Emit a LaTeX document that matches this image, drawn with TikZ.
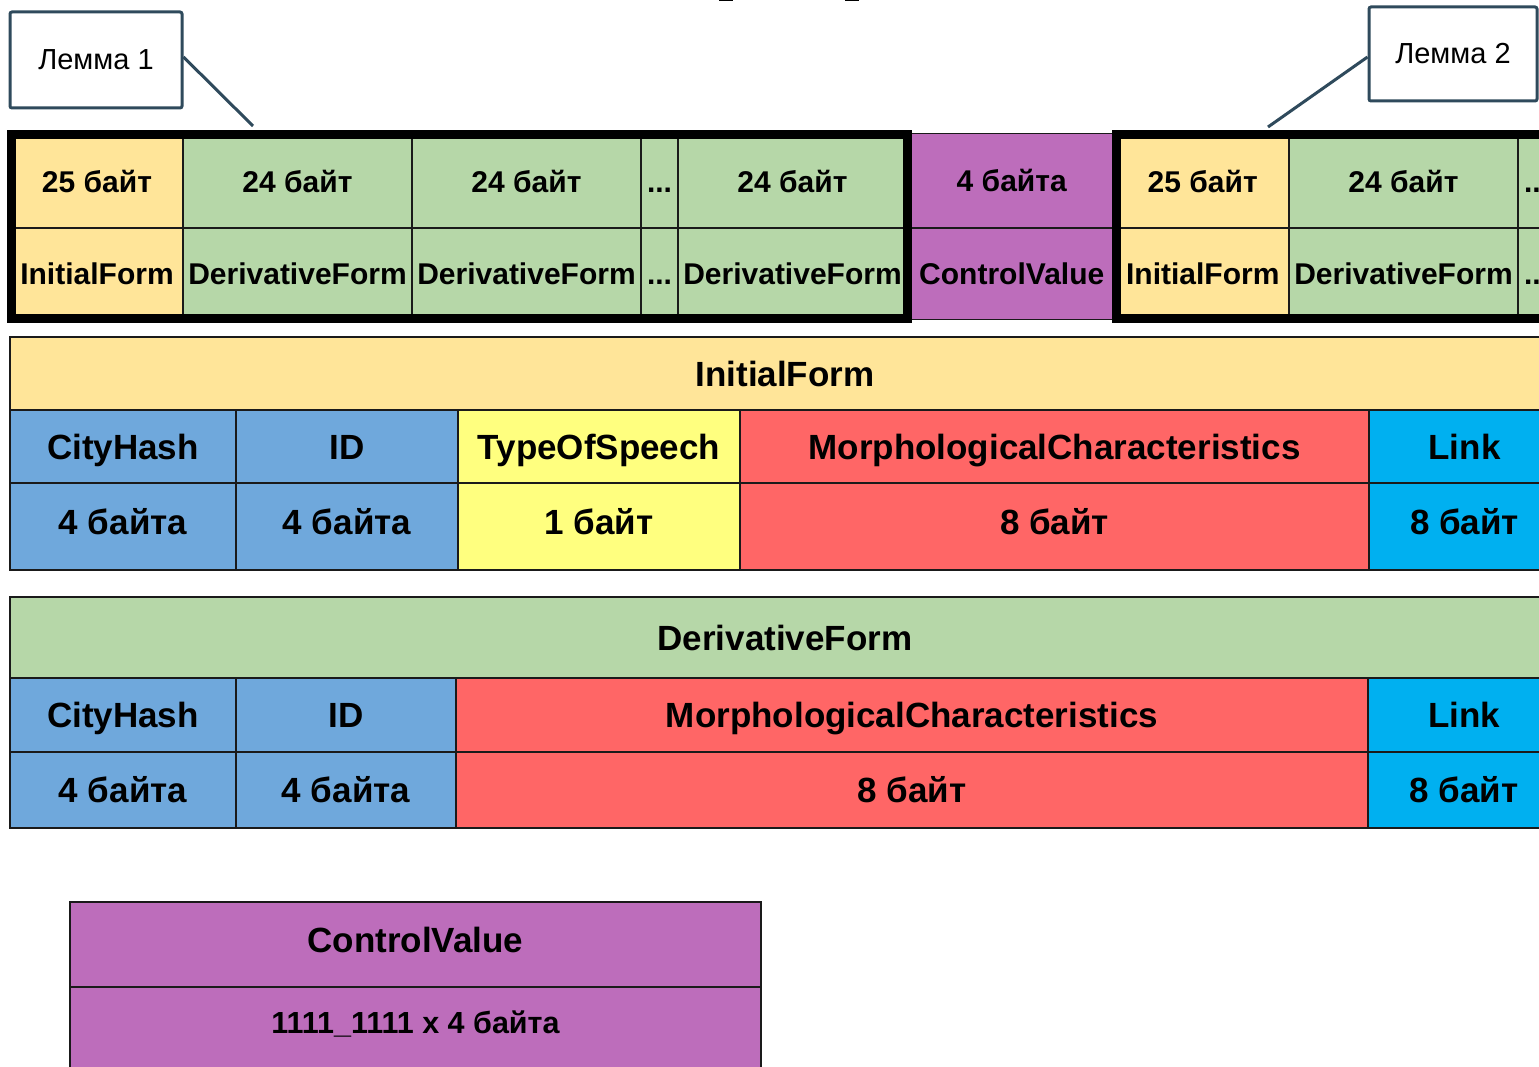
\documentclass[tikz,border=0pt]{standalone}
\usepackage{fontspec}
\setmainfont{Liberation Sans}
\usetikzlibrary{positioning}

\definecolor{formyellow}{HTML}{FFE599}
\definecolor{formgreen}{HTML}{B6D7A8}
\definecolor{cvpurple}{HTML}{BD6DBB}
\definecolor{hashblue}{HTML}{6FA8DC}
\definecolor{speechyellow}{HTML}{FFFF7F}
\definecolor{morphred}{HTML}{FF6666}
\definecolor{linkcyan}{HTML}{00B0F0}
\definecolor{calloutline}{HTML}{2F4A5C}
\definecolor{gridline}{HTML}{1A1A1A}

\newcommand\topfont{\bfseries\fontsize{30}{36}\selectfont}
\newcommand\tabfont{\bfseries\fontsize{35}{42}\selectfont}
\newcommand\cvfont{\bfseries\fontsize{30.5}{36}\selectfont}
\newcommand\lemfont{\fontsize{29}{34}\selectfont}

% one table cell: name, x0, y0, x1, y1, fill, text style, text
\newcommand\mkcell[8]{%
  \node[cell, fill=#6, #7, minimum width={#4-#2}, minimum height={#5-#3}]
    (#1) at (#2,#3) {#8};}

\tikzset{
  cell/.style={draw=gridline, line width=1.5pt, inner sep=0pt, outer sep=0pt,
    anchor=north west, rectangle, align=center, text depth=0pt},
  toptext/.style={font=\topfont, text height=21.6pt},
  tabtext/.style={font=\tabfont, text height=25.2pt},
  cvtext/.style={font=\cvfont, text height=22pt},
  lemmaframe/.style={draw=black, line width=9pt},
  callout/.style={draw=calloutline, line width=3pt, rounded corners=2pt,
    fill=white, inner sep=0pt, font=\lemfont},
  calloutlink/.style={draw=calloutline, line width=3pt},
}

\begin{document}
\begin{tikzpicture}[x=1pt, y=-1pt]
\useasboundingbox (0,0) rectangle (1539,1067);
\clip (0,0) rectangle (1539,1067);
\fill[white] (0,0) rectangle (1539,1067);

% remnants of a caption above the picture
\fill[black] (719,0) rectangle (733,1.5);
\fill[black] (845,0) rectangle (859,1.5);

% ---- the byte stream: lemma 1, control value, lemma 2 ----
\mkcell{a1}{11}{134.5}{183}{228}{formyellow}{toptext}{25 байт}
\mkcell{a2}{183}{134.5}{412}{228}{formgreen}{toptext}{24 байт}
\mkcell{a3}{412}{134.5}{641}{228}{formgreen}{toptext}{24 байт}
\mkcell{a4}{641}{134.5}{678}{228}{formgreen}{toptext}{...}
\mkcell{a5}{678}{134.5}{907}{228}{formgreen}{toptext}{24 байт}
\mkcell{b1}{11}{228}{183}{318.5}{formyellow}{toptext}{InitialForm}
\mkcell{b2}{183}{228}{412}{318.5}{formgreen}{toptext}{DerivativeForm}
\mkcell{b3}{412}{228}{641}{318.5}{formgreen}{toptext}{DerivativeForm}
\mkcell{b4}{641}{228}{678}{318.5}{formgreen}{toptext}{...}
\mkcell{b5}{678}{228}{907}{318.5}{formgreen}{toptext}{DerivativeForm}

\mkcell{cva}{907}{133.5}{1116.5}{228}{cvpurple}{toptext}{4 байта}
\mkcell{cvb}{907}{228}{1116.5}{319.5}{cvpurple}{toptext}{ControlValue}

\mkcell{c1}{1116.5}{134.5}{1289}{228}{formyellow}{toptext}{25 байт}
\mkcell{c2}{1289}{134.5}{1518}{228}{formgreen}{toptext}{24 байт}
\mkcell{c3}{1518}{134.5}{1555}{228}{formgreen}{toptext}{...}
\mkcell{d1}{1116.5}{228}{1289}{318.5}{formyellow}{toptext}{InitialForm}
\mkcell{d2}{1289}{228}{1518}{318.5}{formgreen}{toptext}{DerivativeForm}
\mkcell{d3}{1518}{228}{1555}{318.5}{formgreen}{toptext}{...}
\mkcell{d4}{1555}{134.5}{1640}{318.5}{formgreen}{toptext}{}

\draw[lemmaframe] (11,134.5) rectangle (907,318.5);
\draw[lemmaframe] (1116.5,134.5) rectangle (1660,318.5);

% ---- lemma callouts ----
\node[callout, minimum width=172pt, minimum height=96pt] (lem1) at (96,60) {Лемма 1};
\node[callout, minimum width=168pt, minimum height=94pt] (lem2) at (1453,54) {Лемма 2};
\coordinate (lem1tip) at (253,126);
\coordinate (lem2tip) at (1268,127);
\draw[calloutlink] ([yshift=3pt]lem1.east) -- (lem1tip);
\draw[calloutlink] ([yshift=-3pt]lem2.west) -- (lem2tip);

% ---- InitialForm layout ----
\mkcell{ih}{10}{337}{1560}{410}{formyellow}{tabtext}{InitialForm}
\mkcell{i1}{10}{410}{236}{483}{hashblue}{tabtext}{CityHash}
\mkcell{i2}{236}{410}{458}{483}{hashblue}{tabtext}{ID}
\mkcell{i3}{458}{410}{740}{483}{speechyellow}{tabtext}{TypeOfSpeech}
\mkcell{i4}{740}{410}{1369}{483}{morphred}{tabtext}{MorphologicalCharacteristics}
\mkcell{i5}{1369}{410}{1560}{483}{linkcyan}{tabtext}{Link}
\mkcell{j1}{10}{483}{236}{570}{hashblue}{tabtext, text depth=10pt}{4 байта}
\mkcell{j2}{236}{483}{458}{570}{hashblue}{tabtext, text depth=10pt}{4 байта}
\mkcell{j3}{458}{483}{740}{570}{speechyellow}{tabtext, text depth=10pt}{1 байт}
\mkcell{j4}{740}{483}{1369}{570}{morphred}{tabtext, text depth=10pt}{8 байт}
\mkcell{j5}{1369}{483}{1560}{570}{linkcyan}{tabtext, text depth=10pt}{8 байт}

% ---- DerivativeForm layout ----
\mkcell{dh}{10}{597}{1560}{678}{formgreen}{tabtext}{DerivativeForm}
\mkcell{k1}{10}{678}{236}{752}{hashblue}{tabtext}{CityHash}
\mkcell{k2}{236}{678}{456}{752}{hashblue}{tabtext}{ID}
\mkcell{k3}{456}{678}{1368}{752}{morphred}{tabtext}{MorphologicalCharacteristics}
\mkcell{k4}{1368}{678}{1560}{752}{linkcyan}{tabtext}{Link}
\mkcell{m1}{10}{752}{236}{828}{hashblue}{tabtext}{4 байта}
\mkcell{m2}{236}{752}{456}{828}{hashblue}{tabtext}{4 байта}
\mkcell{m3}{456}{752}{1368}{828}{morphred}{tabtext}{8 байт}
\mkcell{m4}{1368}{752}{1560}{828}{linkcyan}{tabtext}{8 байт}

% ---- ControlValue layout ----
\mkcell{vh}{70}{902}{761}{987}{cvpurple}{tabtext, text depth=9pt}{ControlValue}
\mkcell{v1}{70}{987}{761}{1072}{cvpurple}{cvtext, text depth=14pt}{1111\_1111 x 4 байта}
\end{tikzpicture}
\end{document}
